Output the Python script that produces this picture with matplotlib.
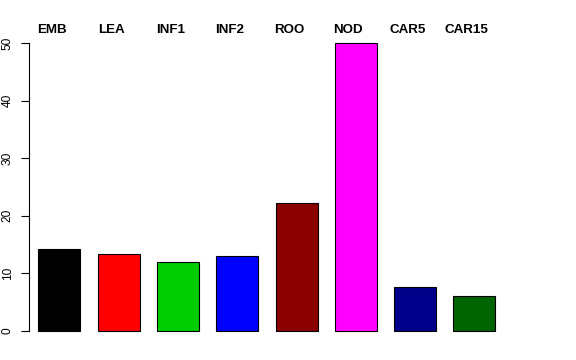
import matplotlib
matplotlib.use("Agg")
import matplotlib.pyplot as plt
from matplotlib.transforms import blended_transform_factory

# data
categories = ["EMB", "LEA", "INF1", "INF2", "ROO", "NOD", "CAR5", "CAR15"]
values = [14.2, 13.4, 11.9, 13.0, 22.3, 50.0, 7.6, 6.1]
bar_colors = ["#000000", "#FF0000", "#00CD00", "#0000FF", "#8B0000", "#FF00FF", "#00008B", "#006400"]
yticks = [0, 10, 20, 30, 40, 50]

plt.rcParams["font.family"] = ["Liberation Sans", "DejaVu Sans"]

W, H = 576, 360
fig = plt.figure(figsize=(W / 100, H / 100), dpi=100)

# axes placed in pixels: y-axis at x=29, y=0 at row 331, y=50 at row 43
pitch = 59.3
x_left_px, x_right_px = 29, 510
y0_px, y50_px = 331, 43
ax = fig.add_axes([x_left_px / W, (H - y0_px) / H,
                   (x_right_px - x_left_px) / W, (y0_px - y50_px) / H])

xs = list(range(len(categories)))
ax.bar(xs, values, width=42 / pitch, color=bar_colors, edgecolor="black",
       linewidth=0.8, clip_on=False, zorder=2)

ax.set_xlim((x_left_px - pitch) / pitch, (x_right_px - pitch) / pitch)
ax.set_ylim(0, 50)

for s in ["top", "right", "bottom"]:
    ax.spines[s].set_visible(False)
ax.spines["left"].set_color("black")
ax.spines["left"].set_linewidth(0.8)

ax.set_xticks([])
ax.set_yticks(yticks)
ax.set_yticklabels([str(t) for t in yticks], rotation=90, va="center", fontsize=8.6)
ax.tick_params(axis="y", length=6, width=0.8, pad=5)

# category labels across the top, a little left of each bar
trans = blended_transform_factory(ax.transData, fig.transFigure)
for x, lab in zip(xs, categories):
    ax.text(x - 7.5 / pitch, 1 - 30 / H, lab, transform=trans,
            ha="center", va="center", fontsize=9.6, fontweight="bold")

fig.savefig("out.png", dpi=100)
